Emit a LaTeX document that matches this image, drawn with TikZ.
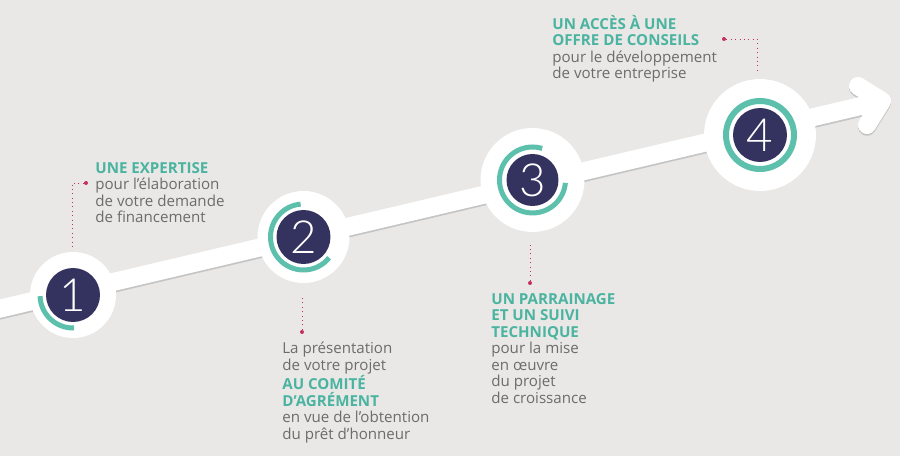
\documentclass[tikz,border=0pt]{standalone}
\usepackage{fontspec}
\setmainfont{Open Sans}
\newfontfamily\numfont{Lato Light}
\usetikzlibrary{calc}
\definecolor{bg}{RGB}{233,232,231}
\definecolor{stepteal}{RGB}{92,192,172}
\definecolor{steptext}{RGB}{74,180,160}
\definecolor{stepnavy}{RGB}{52,50,94}
\definecolor{dotpink}{RGB}{196,48,92}
\definecolor{txtgrey}{RGB}{108,108,108}
\definecolor{shade}{RGB}{196,196,196}
\tikzset{
  halo/.style={circle,fill=white,inner sep=0},
  stepnum/.style={circle,fill=stepnavy,text=white,minimum size=1.08cm,inner sep=0,
    font=\numfont\fontsize{26}{26}\selectfont},
  ring/.style={draw=stepteal,line width=0.1cm},
  band/.style={line width=0.36cm,line cap=round,line join=round},
  pinkdot/.style={circle,fill=dotpink,minimum size=0.08cm,inner sep=0},
  leader/.style={draw=dotpink,line width=0.5pt,dotted},
  info/.style={anchor=north west,inner sep=0,align=left,text=txtgrey,
    font=\fontsize{8.6}{9.4}\selectfont}}
\newcommand{\hl}[1]{{\bfseries\color{steptext}#1}}

\begin{document}
\begin{tikzpicture}[x=0.02cm,y=0.02cm]
  \useasboundingbox (0,0) rectangle (900,456);
  \fill[bg] (0,0) rectangle (900,456);

  % the arrow
  \coordinate (a0) at (-10,145);
  \coordinate (tip) at (882,355);
  \coordinate (b1) at (858,370);
  \coordinate (b2) at (867,331);
  \draw[band,draw=shade,transform canvas={yshift=-0.035cm}] (a0) -- (tip) (b1) -- (tip) -- (b2);
  \draw[band,draw=white] (a0) -- (tip) (b1) -- (tip) -- (b2);

  % steps
  \node[halo,minimum size=1.72cm] (h1) at (73,161) {};
  \node[halo,minimum size=1.84cm] (h2) at (303.5,219) {};
  \node[halo,minimum size=2.08cm] (h3) at (532.5,276) {};
  \node[halo,minimum size=2.24cm] (h4) at (760,321) {};
  \node[stepnum] (s1) at (h1.center) {1};
  \node[stepnum] (s2) at (h2.center) {2};
  \node[stepnum,minimum size=1.04cm] (s3) at (h3.center) {3};
  \node[stepnum] (s4) at (h4.center) {4};
  \draw[ring] ([shift={(182:33)}]s1.center) arc (182:272:33);
  \draw[ring] ([shift={(95:33)}]s2.center) arc (95:321:33);
  \draw[ring] ([shift={(73:33)}]s3.center) arc (73:355:33);
  \draw[ring,line width=0.12cm] (s4.center) circle (34);

  % texts
  \node[info] (t1) at (95,294) {\hl{UNE EXPERTISE}\\pour l'élaboration\\de votre demande\\de financement};
  \node[info] (t2) at (282,114) {La présentation\\de votre projet\\\hl{AU COMITÉ}\\\hl{D'AGRÉMENT}\\en vue de l'obtention\\du prêt d'honneur};
  \node[info] (t3) at (491,163) {\hl{UN PARRAINAGE}\\\hl{ET UN SUIVI}\\\hl{TECHNIQUE}\\pour la mise\\en œuvre\\du projet\\de croissance};
  \node[info] (t4) at (552,441) {\hl{UN ACCÈS À UNE}\\\hl{OFFRE DE CONSEILS}\\pour le développement\\de votre entreprise};

  % leaders
  \node[pinkdot] (d1) at (86,273) {};
  \node[pinkdot] (d2) at (302,124) {};
  \node[pinkdot] (d3) at (530,173) {};
  \node[pinkdot] (d4) at (724,417) {};
  \coordinate (e1) at (72,208);
  \coordinate (e2) at (302,160);
  \coordinate (e3) at (530,213);
  \coordinate (e4) at (757,386);
  \draw[leader] (d1) -| (e1);
  \draw[leader] (d2) -- (e2);
  \draw[leader] (d3) -- (e3);
  \draw[leader] (d4) -| (e4);
\end{tikzpicture}
\end{document}
